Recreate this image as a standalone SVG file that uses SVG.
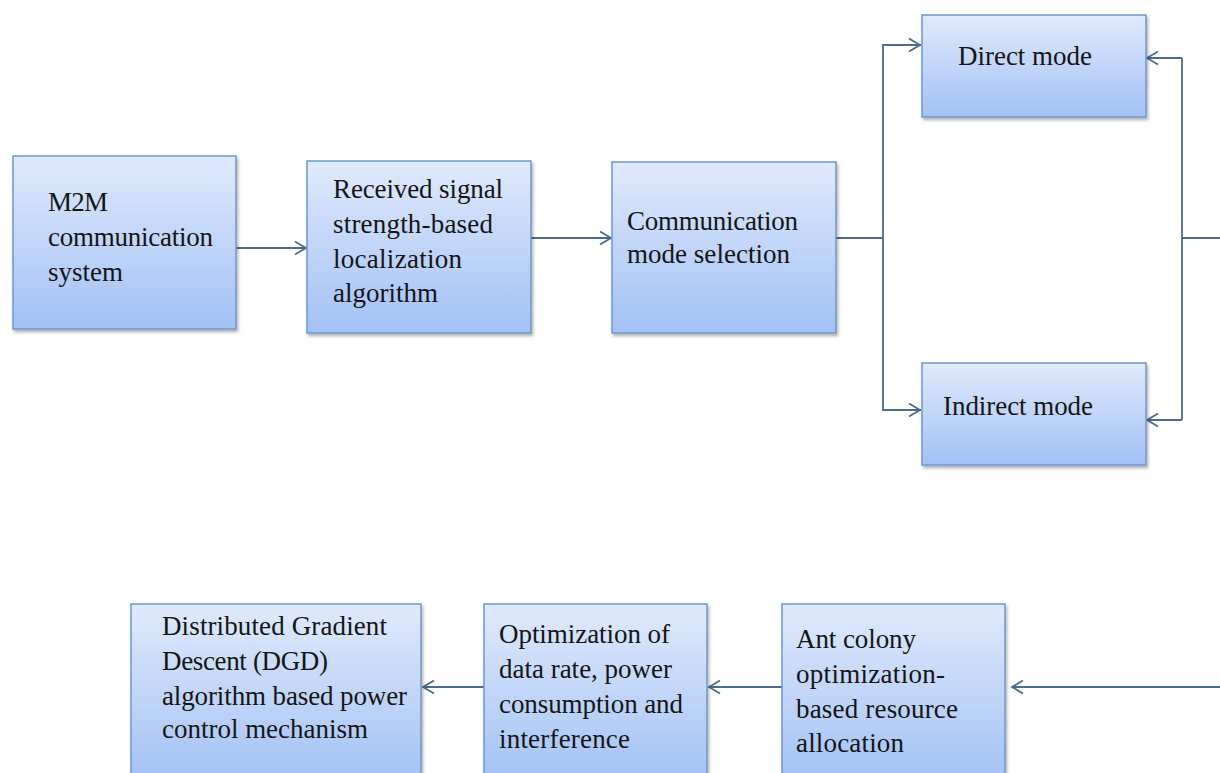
<svg xmlns="http://www.w3.org/2000/svg" width="1220" height="773" viewBox="0 0 1220 773">
<defs>
<linearGradient id="g" x1="0" y1="0" x2="0" y2="1">
<stop offset="0" stop-color="#e0eafc"/>
<stop offset="1" stop-color="#a2c1f5"/>
</linearGradient>
<filter id="sh" x="-5%" y="-5%" width="110%" height="115%">
<feDropShadow dx="1.5" dy="2.5" stdDeviation="1.5" flood-color="#000" flood-opacity="0.3"/>
</filter>
<marker id="a" markerUnits="userSpaceOnUse" markerWidth="16" markerHeight="16" viewBox="0 0 16 16" refX="14" refY="8" orient="auto">
<path d="M3,1.5 L14,8 L3,14.5" fill="none" stroke="#4d6a8f" stroke-width="1.8"/>
</marker>
</defs>
<style>
.box{fill:url(#g);stroke:#7096cc;stroke-width:1.5;filter:url(#sh)}
.t{font-family:"Liberation Serif","Times New Roman",serif;font-size:27px;fill:#151515}
.c{fill:none;stroke:#4d6a8f;stroke-width:1.8}
</style>
<rect width="1220" height="773" fill="#fff"/>
<g id="connectors">
<path class="c" d="M236,248 H306" marker-end="url(#a)"/>
<path class="c" d="M531,238 H611" marker-end="url(#a)"/>
<path class="c" d="M836,238 H883"/>
<path class="c" d="M921,45 H883 V410 H921"/>
<path class="c" d="M883,45 H920" marker-end="url(#a)"/>
<path class="c" d="M883,410 H920" marker-end="url(#a)"/>
<path class="c" d="M1182,58 V420"/>
<path class="c" d="M1182,58 H1147" marker-end="url(#a)"/>
<path class="c" d="M1182,420 H1147" marker-end="url(#a)"/>
<path class="c" d="M1182,238 H1220"/>
<path class="c" d="M1220,687 H1012" marker-end="url(#a)"/>
<path class="c" d="M782,687 H709" marker-end="url(#a)"/>
<path class="c" d="M495,687 H423" marker-end="url(#a)"/>
</g>
<g id="m2m">
<rect class="box" x="13" y="156" width="223" height="173"/>
<text class="t"><tspan x="48" y="211" textLength="60" lengthAdjust="spacing">M2M</tspan><tspan x="48" y="246" textLength="165" lengthAdjust="spacing">communication</tspan><tspan x="48" y="281" textLength="75" lengthAdjust="spacing">system</tspan></text>
</g>
<g id="rss">
<rect class="box" x="307" y="161" width="224" height="172"/>
<text class="t"><tspan x="333" y="198" textLength="170" lengthAdjust="spacing">Received signal</tspan><tspan x="333" y="233" textLength="160" lengthAdjust="spacing">strength-based</tspan><tspan x="333" y="268" textLength="129" lengthAdjust="spacing">localization</tspan><tspan x="333" y="302" textLength="105" lengthAdjust="spacing">algorithm</tspan></text>
</g>
<g id="cms">
<rect class="box" x="612" y="162" width="224" height="171"/>
<text class="t"><tspan x="627" y="230" textLength="171" lengthAdjust="spacing">Communication</tspan><tspan x="627" y="263" textLength="163" lengthAdjust="spacing">mode selection</tspan></text>
</g>
<g id="direct">
<rect class="box" x="922" y="15" width="224" height="102"/>
<text class="t" x="958" y="65" textLength="134" lengthAdjust="spacing">Direct mode</text>
</g>
<g id="indirect">
<rect class="box" x="922" y="363" width="224" height="102"/>
<text class="t" x="943" y="415" textLength="150" lengthAdjust="spacing">Indirect mode</text>
</g>
<g id="dgd">
<rect class="box" x="131" y="604" width="290" height="180"/>
<text class="t"><tspan x="162" y="635" textLength="225" lengthAdjust="spacing">Distributed Gradient</tspan><tspan x="162" y="670" textLength="166" lengthAdjust="spacing">Descent (DGD)</tspan><tspan x="162" y="705" textLength="245" lengthAdjust="spacing">algorithm based power</tspan><tspan x="162" y="738" textLength="206" lengthAdjust="spacing">control mechanism</tspan></text>
</g>
<g id="opt">
<rect class="box" x="484" y="604" width="223" height="180"/>
<text class="t"><tspan x="499" y="643" textLength="171" lengthAdjust="spacing">Optimization of</tspan><tspan x="499" y="678" textLength="173" lengthAdjust="spacing">data rate, power</tspan><tspan x="499" y="713" textLength="184" lengthAdjust="spacing">consumption and</tspan><tspan x="499" y="748" textLength="131" lengthAdjust="spacing">interference</tspan></text>
</g>
<g id="aco">
<rect class="box" x="782" y="604" width="223" height="180"/>
<text class="t"><tspan x="796" y="648" textLength="120" lengthAdjust="spacing">Ant colony</tspan><tspan x="796" y="683" textLength="149" lengthAdjust="spacing">optimization-</tspan><tspan x="796" y="718" textLength="162" lengthAdjust="spacing">based resource</tspan><tspan x="796" y="752" textLength="108" lengthAdjust="spacing">allocation</tspan></text>
</g>
</svg>
